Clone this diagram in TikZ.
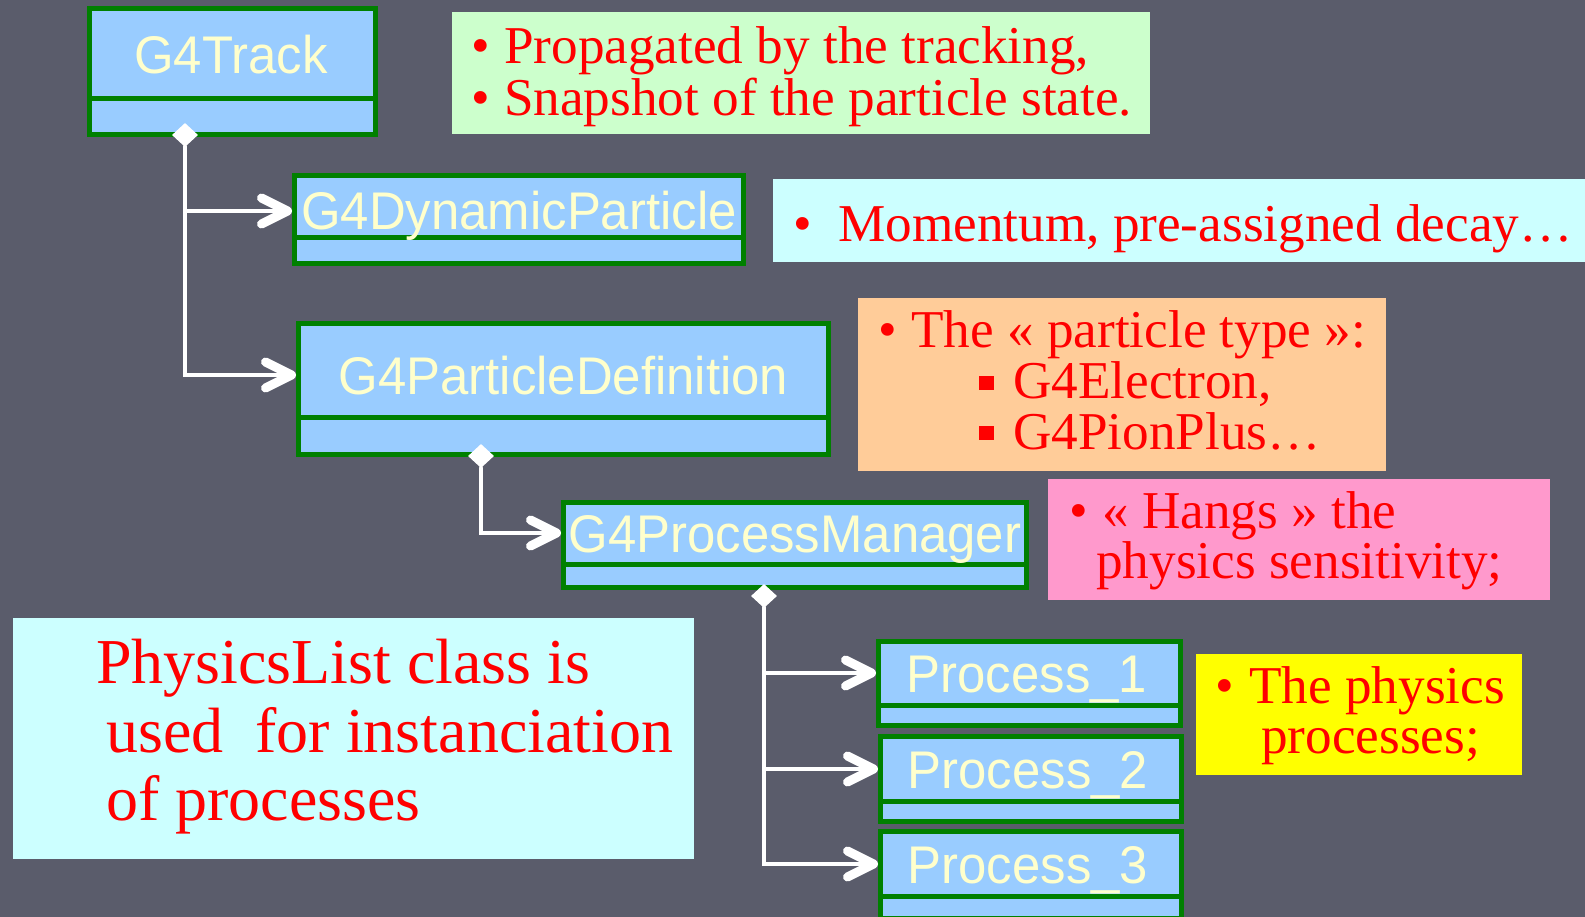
\documentclass[tikz,border=0pt]{standalone}
\usepackage{fontspec}
\usepackage{tikz}
\usetikzlibrary{arrows.meta,shapes.geometric}
\setmainfont{Liberation Serif}
\newfontfamily\clsfont[FakeStretch=0.96]{Liberation Sans}
\definecolor{slide}{HTML}{5A5C6B}
\definecolor{clsfill}{HTML}{99CCFF}
\definecolor{clsedge}{HTML}{008000}
\definecolor{clstext}{HTML}{FFFFCC}
\definecolor{notered}{HTML}{FF0000}
\definecolor{notegreen}{HTML}{CCFFCC}
\definecolor{notecyan}{HTML}{CCFFFF}
\definecolor{noteorange}{HTML}{FFCC99}
\definecolor{notepink}{HTML}{FF99CC}
\definecolor{noteyellow}{HTML}{FFFF00}
\newcommand{\blt}[1][33pt]{\makebox[#1][l]{•}}

\begin{document}
\begin{tikzpicture}[x=1pt,y=-1pt]
  \tikzstyle{cls}=[draw=clsedge,fill=clsfill,line width=5pt,inner sep=0pt]
  \tikzstyle{clsname}=[font=\clsfont\fontsize{53}{53}\selectfont,text=clstext,inner sep=0pt,text height=38pt,text depth=0pt]
  \tikzstyle{divider}=[draw=clsedge,line width=5pt]
  \tikzstyle{owner}=[diamond,fill=white,inner sep=0pt,minimum width=26pt,minimum height=24pt]
  \tikzstyle{link}=[draw=white,line width=4.5pt,line cap=round,-{Straight Barb[length=26pt,width=26pt,line width=9pt 0 0,round]}]
  \tikzstyle{note}=[anchor=north west,inner sep=0pt,outer sep=0pt]
  \tikzstyle{notetext}=[anchor=base west,inner sep=0pt,text=notered,font=\fontsize{53.2}{50}\selectfont]
  \tikzstyle{bigtext}=[notetext,font=\fontsize{64}{70}\selectfont]

  \useasboundingbox (0,0) rectangle (1585,917);
  \clip (0,0) rectangle (1585,917);
  \fill[slide] (0,0) rectangle (1585,917);

  % notes
  \node[note,fill=notegreen,minimum width=698pt,minimum height=122pt] (tracknote) at (452,12) {};
  \node[note,fill=notecyan,minimum width=820pt,minimum height=83pt] (dynnote) at (773,179) {};
  \node[note,fill=noteorange,minimum width=528pt,minimum height=173pt] (pdefnote) at (858,298) {};
  \node[note,fill=notepink,minimum width=502pt,minimum height=121pt] (pmannote) at (1048,479) {};
  \node[note,fill=noteyellow,minimum width=326pt,minimum height=121pt] (procnote) at (1196,654) {};
  \node[note,fill=notecyan,minimum width=681pt,minimum height=241pt] (listnote) at (13,618) {};

  \node[notetext] (tracktxta) at (471,64) {\blt Propagated by the tracking,};
  \node[notetext] (tracktxtb) at (471,116) {\blt Snapshot of the particle state.};
  \node[notetext] (dyntxt) at (793,242) {\blt[45pt]Momentum, pre-assigned decay…};
  \node[notetext] (pdeftxta) at (878,348) {\blt The « particle type »:};
  \node[notetext] (pdeftxtb) at (1013,398) {G4Electron,};
  \node[notetext] (pdeftxtc) at (1013,449) {G4PionPlus…};
  \fill[notered] (979,376) rectangle (994,390);
  \fill[notered] (979,426) rectangle (994,440);
  \node[notetext] (pmantxta) at (1069,528) {\blt « Hangs » the};
  \node[notetext] (pmantxtb) at (1096,578) {physics sensitivity;};
  \node[notetext] (proctxta) at (1215,703) {\blt[34pt]The physics};
  \node[notetext] (proctxtb) at (1261,753) {processes;};
  \node[bigtext] (listtxta) at (96,683) {PhysicsList class is};
  \node[bigtext] (listtxtb) at (106,752) {used~ for instanciation};
  \node[bigtext] (listtxtc) at (106,820) {of processes};

  % classes
  \node[cls,minimum width=286pt,minimum height=126pt] (track) at (232.5,71.5) {};
  \draw[divider] (track.west |- 0,99) -- (track.east |- 0,99);
  \node[clsname] (trackname) at (231,54.5) {G4Track};

  \node[cls,minimum width=449pt,minimum height=88pt] (dyn) at (519,219.5) {};
  \draw[divider] (dyn.west |- 0,238) -- (dyn.east |- 0,238);
  \node[clsname] (dynname) at (519,211) {G4DynamicParticle};

  \node[cls,minimum width=530pt,minimum height=131pt] (pdef) at (563.5,389) {};
  \draw[divider] (pdef.west |- 0,417) -- (pdef.east |- 0,417);
  \node[clsname] (pdefname) at (563.5,375) {G4ParticleDefinition};

  \node[cls,minimum width=463pt,minimum height=85pt] (pman) at (795,545) {};
  \draw[divider] (pman.west |- 0,564) -- (pman.east |- 0,564);
  \node[clsname] (pmanname) at (795,533) {G4ProcessManager};

  \node[cls,minimum width=302pt,minimum height=84pt] (procA) at (1029.5,683.5) {};
  \draw[divider] (procA.west |- 0,705) -- (procA.east |- 0,705);
  \node[clsname] (procAname) at (1027,673) {Process\_1};

  \node[cls,minimum width=301pt,minimum height=85pt] (procB) at (1031,779) {};
  \draw[divider] (procB.west |- 0,801) -- (procB.east |- 0,801);
  \node[clsname] (procBname) at (1028,769) {Process\_2};

  \node[cls,minimum width=301pt,minimum height=87pt] (procC) at (1031,875) {};
  \draw[divider] (procC.west |- 0,896) -- (procC.east |- 0,896);
  \node[clsname] (procCname) at (1028,864) {Process\_3};

  % aggregation links
  \node[owner] (trackdia) at (185,135) {};
  \node[owner] (pdefdia) at (481,456) {};
  \node[owner] (pmandia) at (764,596) {};

  \draw[link] (trackdia.south) |- (dyn.west |- dynname);
  \draw[link] (trackdia.south) |- (pdef.west |- pdefname);
  \draw[link] (pdefdia.south) |- (pman.west |- pmanname);
  \draw[link] (pmandia.south) |- (procA.west |- procAname);
  \draw[link] (pmandia.south) |- (procB.west |- procBname);
  \draw[link] (pmandia.south) |- (procC.west |- procCname);
\end{tikzpicture}
\end{document}
